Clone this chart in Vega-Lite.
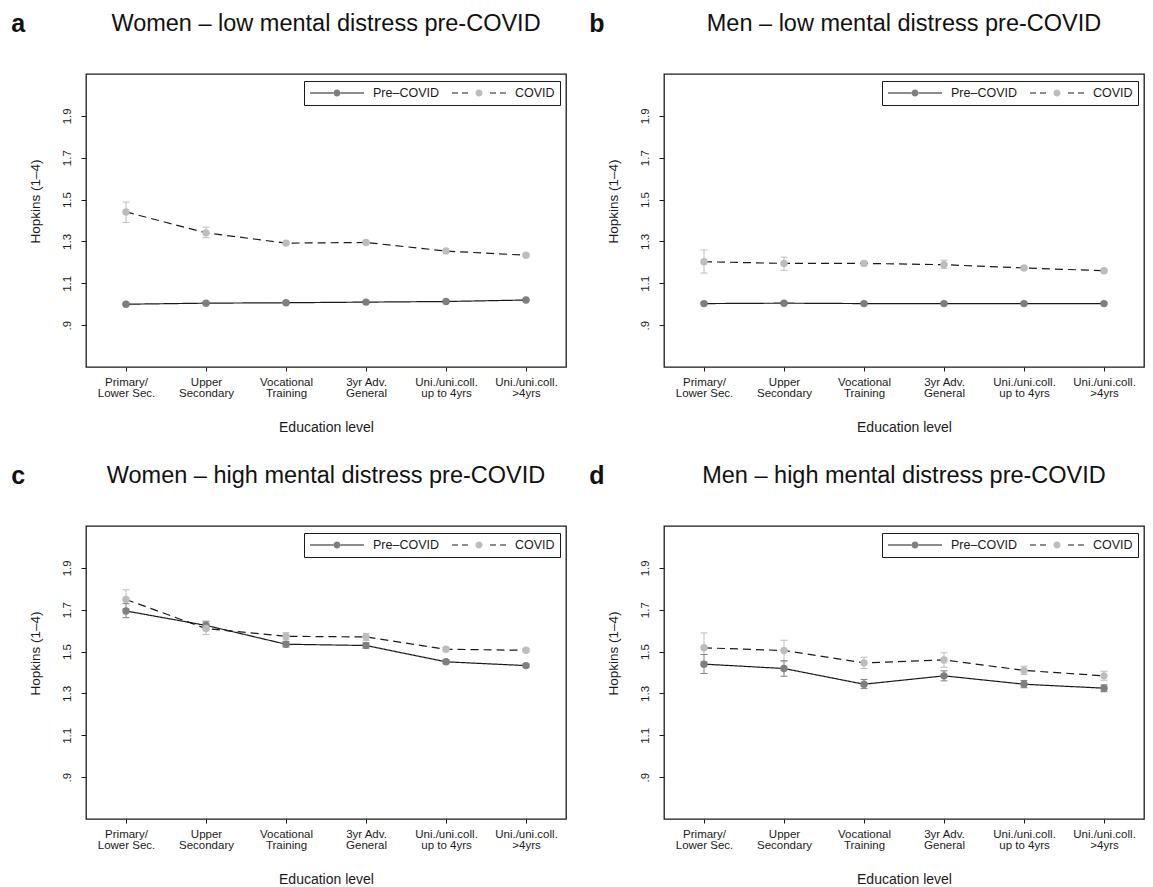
{
  "$schema": "https://vega.github.io/schema/vega-lite/v6.json",
  "padding": {"left": 11, "top": 10, "right": 5, "bottom": 3},
  "background": "white",
  "config": {
    "font": "Liberation Sans",
    "view": {"stroke": "#1a1a1a", "strokeWidth": 1.3},
    "axis": {"domain": false, "grid": false, "tickColor": "#1a1a1a", "labelColor": "#1a1a1a", "titleColor": "#1a1a1a", "labelFont": "Liberation Sans", "titleFont": "Liberation Sans", "titleFontWeight": "normal"},
    "title": {"font": "Liberation Sans", "fontWeight": "normal", "color": "#111111"}
  },
  "datasets": {
    "d": [
      {"panel": "a", "edu": "Primary/|Lower Sec.", "period": "Pre–COVID", "grp": "pre", "value": 1.000, "lo": 0.996, "hi": 1.004},
      {"panel": "a", "edu": "Upper|Secondary", "period": "Pre–COVID", "grp": "pre", "value": 1.005, "lo": 1.001, "hi": 1.009},
      {"panel": "a", "edu": "Vocational|Training", "period": "Pre–COVID", "grp": "pre", "value": 1.007, "lo": 1.003, "hi": 1.011},
      {"panel": "a", "edu": "3yr Adv.|General", "period": "Pre–COVID", "grp": "pre", "value": 1.010, "lo": 1.006, "hi": 1.014},
      {"panel": "a", "edu": "Uni./uni.coll.|up to 4yrs", "period": "Pre–COVID", "grp": "pre", "value": 1.013, "lo": 1.009, "hi": 1.017},
      {"panel": "a", "edu": "Uni./uni.coll.|>4yrs", "period": "Pre–COVID", "grp": "pre", "value": 1.020, "lo": 1.016, "hi": 1.024},
      {"panel": "a", "edu": "Primary/|Lower Sec.", "period": "COVID", "grp": "covid", "value": 1.441, "lo": 1.391, "hi": 1.488},
      {"panel": "a", "edu": "Upper|Secondary", "period": "COVID", "grp": "covid", "value": 1.341, "lo": 1.318, "hi": 1.368},
      {"panel": "a", "edu": "Vocational|Training", "period": "COVID", "grp": "covid", "value": 1.292, "lo": 1.286, "hi": 1.298},
      {"panel": "a", "edu": "3yr Adv.|General", "period": "COVID", "grp": "covid", "value": 1.295, "lo": 1.289, "hi": 1.301},
      {"panel": "a", "edu": "Uni./uni.coll.|up to 4yrs", "period": "COVID", "grp": "covid", "value": 1.254, "lo": 1.249, "hi": 1.259},
      {"panel": "a", "edu": "Uni./uni.coll.|>4yrs", "period": "COVID", "grp": "covid", "value": 1.234, "lo": 1.229, "hi": 1.239},
      {"panel": "b", "edu": "Primary/|Lower Sec.", "period": "Pre–COVID", "grp": "pre", "value": 1.003, "lo": 0.999, "hi": 1.007},
      {"panel": "b", "edu": "Upper|Secondary", "period": "Pre–COVID", "grp": "pre", "value": 1.005, "lo": 1.001, "hi": 1.009},
      {"panel": "b", "edu": "Vocational|Training", "period": "Pre–COVID", "grp": "pre", "value": 1.003, "lo": 0.999, "hi": 1.007},
      {"panel": "b", "edu": "3yr Adv.|General", "period": "Pre–COVID", "grp": "pre", "value": 1.003, "lo": 0.999, "hi": 1.007},
      {"panel": "b", "edu": "Uni./uni.coll.|up to 4yrs", "period": "Pre–COVID", "grp": "pre", "value": 1.003, "lo": 0.999, "hi": 1.007},
      {"panel": "b", "edu": "Uni./uni.coll.|>4yrs", "period": "Pre–COVID", "grp": "pre", "value": 1.003, "lo": 0.999, "hi": 1.007},
      {"panel": "b", "edu": "Primary/|Lower Sec.", "period": "COVID", "grp": "covid", "value": 1.203, "lo": 1.149, "hi": 1.259},
      {"panel": "b", "edu": "Upper|Secondary", "period": "COVID", "grp": "covid", "value": 1.195, "lo": 1.162, "hi": 1.225},
      {"panel": "b", "edu": "Vocational|Training", "period": "COVID", "grp": "covid", "value": 1.195, "lo": 1.185, "hi": 1.205},
      {"panel": "b", "edu": "3yr Adv.|General", "period": "COVID", "grp": "covid", "value": 1.189, "lo": 1.170, "hi": 1.210},
      {"panel": "b", "edu": "Uni./uni.coll.|up to 4yrs", "period": "COVID", "grp": "covid", "value": 1.173, "lo": 1.165, "hi": 1.181},
      {"panel": "b", "edu": "Uni./uni.coll.|>4yrs", "period": "COVID", "grp": "covid", "value": 1.160, "lo": 1.154, "hi": 1.166},
      {"panel": "c", "edu": "Primary/|Lower Sec.", "period": "Pre–COVID", "grp": "pre", "value": 1.694, "lo": 1.662, "hi": 1.729},
      {"panel": "c", "edu": "Upper|Secondary", "period": "Pre–COVID", "grp": "pre", "value": 1.625, "lo": 1.605, "hi": 1.645},
      {"panel": "c", "edu": "Vocational|Training", "period": "Pre–COVID", "grp": "pre", "value": 1.535, "lo": 1.522, "hi": 1.548},
      {"panel": "c", "edu": "3yr Adv.|General", "period": "Pre–COVID", "grp": "pre", "value": 1.529, "lo": 1.516, "hi": 1.542},
      {"panel": "c", "edu": "Uni./uni.coll.|up to 4yrs", "period": "Pre–COVID", "grp": "pre", "value": 1.451, "lo": 1.442, "hi": 1.460},
      {"panel": "c", "edu": "Uni./uni.coll.|>4yrs", "period": "Pre–COVID", "grp": "pre", "value": 1.433, "lo": 1.425, "hi": 1.441},
      {"panel": "c", "edu": "Primary/|Lower Sec.", "period": "COVID", "grp": "covid", "value": 1.749, "lo": 1.705, "hi": 1.795},
      {"panel": "c", "edu": "Upper|Secondary", "period": "COVID", "grp": "covid", "value": 1.610, "lo": 1.581, "hi": 1.638},
      {"panel": "c", "edu": "Vocational|Training", "period": "COVID", "grp": "covid", "value": 1.573, "lo": 1.556, "hi": 1.590},
      {"panel": "c", "edu": "3yr Adv.|General", "period": "COVID", "grp": "covid", "value": 1.570, "lo": 1.553, "hi": 1.587},
      {"panel": "c", "edu": "Uni./uni.coll.|up to 4yrs", "period": "COVID", "grp": "covid", "value": 1.511, "lo": 1.502, "hi": 1.520},
      {"panel": "c", "edu": "Uni./uni.coll.|>4yrs", "period": "COVID", "grp": "covid", "value": 1.506, "lo": 1.497, "hi": 1.515},
      {"panel": "d", "edu": "Primary/|Lower Sec.", "period": "Pre–COVID", "grp": "pre", "value": 1.440, "lo": 1.395, "hi": 1.486},
      {"panel": "d", "edu": "Upper|Secondary", "period": "Pre–COVID", "grp": "pre", "value": 1.419, "lo": 1.382, "hi": 1.456},
      {"panel": "d", "edu": "Vocational|Training", "period": "Pre–COVID", "grp": "pre", "value": 1.344, "lo": 1.324, "hi": 1.367},
      {"panel": "d", "edu": "3yr Adv.|General", "period": "Pre–COVID", "grp": "pre", "value": 1.384, "lo": 1.360, "hi": 1.408},
      {"panel": "d", "edu": "Uni./uni.coll.|up to 4yrs", "period": "Pre–COVID", "grp": "pre", "value": 1.344, "lo": 1.327, "hi": 1.362},
      {"panel": "d", "edu": "Uni./uni.coll.|>4yrs", "period": "Pre–COVID", "grp": "pre", "value": 1.325, "lo": 1.308, "hi": 1.341},
      {"panel": "d", "edu": "Primary/|Lower Sec.", "period": "COVID", "grp": "covid", "value": 1.518, "lo": 1.451, "hi": 1.589},
      {"panel": "d", "edu": "Upper|Secondary", "period": "COVID", "grp": "covid", "value": 1.505, "lo": 1.454, "hi": 1.554},
      {"panel": "d", "edu": "Vocational|Training", "period": "COVID", "grp": "covid", "value": 1.446, "lo": 1.419, "hi": 1.473},
      {"panel": "d", "edu": "3yr Adv.|General", "period": "COVID", "grp": "covid", "value": 1.460, "lo": 1.425, "hi": 1.494},
      {"panel": "d", "edu": "Uni./uni.coll.|up to 4yrs", "period": "COVID", "grp": "covid", "value": 1.410, "lo": 1.390, "hi": 1.430},
      {"panel": "d", "edu": "Uni./uni.coll.|>4yrs", "period": "COVID", "grp": "covid", "value": 1.384, "lo": 1.363, "hi": 1.406}
    ]
  },
  "resolve": {"scale": {"fill": "independent", "stroke": "independent", "strokeDash": "independent"}, "legend": {"fill": "independent"}},
  "spacing": 27,
  "vconcat": [
    {
      "spacing": 22,
      "resolve": {"scale": {"fill": "independent", "stroke": "independent", "strokeDash": "independent"}, "legend": {"fill": "independent"}},
      "hconcat": [
        {
          "title": {"text": "a", "anchor": "start", "frame": "bounds", "fontSize": 25, "fontWeight": "bold", "dx": -16, "dy": 26, "offset": 0},
          "resolve": {"scale": {"fill": "independent", "stroke": "independent", "strokeDash": "independent"}, "legend": {"fill": "independent"}},
          "vconcat": [
            {
              "width": 480, "height": 293,
              "title": {"text": "Women – low mental distress pre-COVID", "offset": 39, "fontSize": 23.5, "anchor": "middle", "frame": "group"},
              "data": {"name": "d"},
              "transform": [{"filter": "datum.panel === 'a'"}],
              "encoding": {
                "x": {"field": "edu", "type": "nominal", "scale": {"type": "point", "padding": 0.5, "domain": ["Primary/|Lower Sec.", "Upper|Secondary", "Vocational|Training", "3yr Adv.|General", "Uni./uni.coll.|up to 4yrs", "Uni./uni.coll.|>4yrs"]}, "axis": {"title": "Education level", "titleFontSize": 14, "titlePadding": 21, "labelFontSize": 11.5, "labelLineHeight": 11.5, "labelAngle": 0, "labelExpr": "split(datum.label, '|')", "labelOverlap": false, "tickSize": 4, "labelPadding": 5}},
                "y": {"field": "value", "type": "quantitative", "scale": {"domain": [0.7, 2.1], "nice": false, "zero": false}, "axis": {"title": "Hopkins (1–4)", "titleFontSize": 13.5, "titlePadding": 19, "titleY": 127, "values": [0.9, 1.1, 1.3, 1.5, 1.7, 1.9], "labelExpr": "datum.value < 1 ? '.9' : format(datum.value, '.1f')", "labelAngle": -90, "labelFontSize": 11.5, "tickSize": 5, "labelPadding": 9}}
              },
              "layer": [
                {"mark": {"type": "rule", "strokeWidth": 1}, "encoding": {"y": {"field": "lo", "type": "quantitative"}, "y2": {"field": "hi"}, "stroke": {"field": "period", "type": "nominal", "scale": {"domain": ["Pre–COVID", "COVID"], "range": ["#7f7f7f", "#bdbdbd"]}, "legend": null}}},
                {"mark": {"type": "rule", "strokeWidth": 1, "xOffset": -3.5, "x2Offset": 3.5}, "encoding": {"x2": {"field": "edu"}, "y": {"field": "lo", "type": "quantitative"}, "stroke": {"field": "period", "type": "nominal", "scale": {"domain": ["Pre–COVID", "COVID"], "range": ["#7f7f7f", "#bdbdbd"]}, "legend": null}}},
                {"mark": {"type": "rule", "strokeWidth": 1, "xOffset": -3.5, "x2Offset": 3.5}, "encoding": {"x2": {"field": "edu"}, "y": {"field": "hi", "type": "quantitative"}, "stroke": {"field": "period", "type": "nominal", "scale": {"domain": ["Pre–COVID", "COVID"], "range": ["#7f7f7f", "#bdbdbd"]}, "legend": null}}},
                {"mark": {"type": "line", "strokeWidth": 1.2, "color": "#1a1a1a"}, "encoding": {
                  "strokeDash": {"field": "period", "type": "nominal", "scale": {"domain": ["Pre–COVID", "COVID"], "range": [[1, 0], [8, 5]]}, "legend": null}}},
                {"mark": {"type": "point", "filled": true, "size": 55, "opacity": 1}, "encoding": {
                  "fill": {"field": "grp", "type": "nominal", "scale": {"domain": ["pre", "covid"], "range": ["#7f7f7f", "#bdbdbd"]}, "legend": {"orient": "none", "legendX": 218, "legendY": 7, "direction": "horizontal", "columns": 2, "title": null, "symbolType": "M-0.13,0H-1H-0.13M0.13,0H1H0.13M-0.13,0A0.13,0.13 0 1 1 0.13,0A0.13,0.13 0 1 1 -0.13,0Z", "symbolSize": 2916, "symbolStrokeWidth": 1.2, "symbolStrokeColor": "#1a1a1a", "symbolOpacity": 1, "clipHeight": 14, "labelFontSize": 12.5, "labelColor": "#1a1a1a", "labelExpr": "datum.value === 'pre' ? 'Pre–COVID' : 'COVID'", "labelOffset": 8, "columnPadding": 12, "padding": 5, "strokeColor": "#1a1a1a", "encode": {"symbols": {"update": {"stroke": {"value": "#1a1a1a"}, "strokeWidth": {"value": 1.2}, "strokeDash": {"signal": "datum.value === 'covid' ? [0, 23.5, 6, 4, 6, 100] : [0, 23.5, 100]"}, "fill": {"signal": "datum.value === 'covid' ? '#bdbdbd' : '#7f7f7f'"}}}}}}}}
              ]
            }
          ]
        },
        {
          "title": {"text": "b", "anchor": "start", "frame": "bounds", "fontSize": 25, "fontWeight": "bold", "dx": -16, "dy": 26, "offset": 0},
          "resolve": {"scale": {"fill": "independent", "stroke": "independent", "strokeDash": "independent"}, "legend": {"fill": "independent"}},
          "vconcat": [
            {
              "width": 480, "height": 293,
              "title": {"text": "Men – low mental distress pre-COVID", "offset": 39, "fontSize": 23.5, "anchor": "middle", "frame": "group"},
              "data": {"name": "d"},
              "transform": [{"filter": "datum.panel === 'b'"}],
              "encoding": {
                "x": {"field": "edu", "type": "nominal", "scale": {"type": "point", "padding": 0.5, "domain": ["Primary/|Lower Sec.", "Upper|Secondary", "Vocational|Training", "3yr Adv.|General", "Uni./uni.coll.|up to 4yrs", "Uni./uni.coll.|>4yrs"]}, "axis": {"title": "Education level", "titleFontSize": 14, "titlePadding": 21, "labelFontSize": 11.5, "labelLineHeight": 11.5, "labelAngle": 0, "labelExpr": "split(datum.label, '|')", "labelOverlap": false, "tickSize": 4, "labelPadding": 5}},
                "y": {"field": "value", "type": "quantitative", "scale": {"domain": [0.7, 2.1], "nice": false, "zero": false}, "axis": {"title": "Hopkins (1–4)", "titleFontSize": 13.5, "titlePadding": 19, "titleY": 127, "values": [0.9, 1.1, 1.3, 1.5, 1.7, 1.9], "labelExpr": "datum.value < 1 ? '.9' : format(datum.value, '.1f')", "labelAngle": -90, "labelFontSize": 11.5, "tickSize": 5, "labelPadding": 9}}
              },
              "layer": [
                {"mark": {"type": "rule", "strokeWidth": 1}, "encoding": {"y": {"field": "lo", "type": "quantitative"}, "y2": {"field": "hi"}, "stroke": {"field": "period", "type": "nominal", "scale": {"domain": ["Pre–COVID", "COVID"], "range": ["#7f7f7f", "#bdbdbd"]}, "legend": null}}},
                {"mark": {"type": "rule", "strokeWidth": 1, "xOffset": -3.5, "x2Offset": 3.5}, "encoding": {"x2": {"field": "edu"}, "y": {"field": "lo", "type": "quantitative"}, "stroke": {"field": "period", "type": "nominal", "scale": {"domain": ["Pre–COVID", "COVID"], "range": ["#7f7f7f", "#bdbdbd"]}, "legend": null}}},
                {"mark": {"type": "rule", "strokeWidth": 1, "xOffset": -3.5, "x2Offset": 3.5}, "encoding": {"x2": {"field": "edu"}, "y": {"field": "hi", "type": "quantitative"}, "stroke": {"field": "period", "type": "nominal", "scale": {"domain": ["Pre–COVID", "COVID"], "range": ["#7f7f7f", "#bdbdbd"]}, "legend": null}}},
                {"mark": {"type": "line", "strokeWidth": 1.2, "color": "#1a1a1a"}, "encoding": {
                  "strokeDash": {"field": "period", "type": "nominal", "scale": {"domain": ["Pre–COVID", "COVID"], "range": [[1, 0], [8, 5]]}, "legend": null}}},
                {"mark": {"type": "point", "filled": true, "size": 55, "opacity": 1}, "encoding": {
                  "fill": {"field": "grp", "type": "nominal", "scale": {"domain": ["pre", "covid"], "range": ["#7f7f7f", "#bdbdbd"]}, "legend": {"orient": "none", "legendX": 218, "legendY": 7, "direction": "horizontal", "columns": 2, "title": null, "symbolType": "M-0.13,0H-1H-0.13M0.13,0H1H0.13M-0.13,0A0.13,0.13 0 1 1 0.13,0A0.13,0.13 0 1 1 -0.13,0Z", "symbolSize": 2916, "symbolStrokeWidth": 1.2, "symbolStrokeColor": "#1a1a1a", "symbolOpacity": 1, "clipHeight": 14, "labelFontSize": 12.5, "labelColor": "#1a1a1a", "labelExpr": "datum.value === 'pre' ? 'Pre–COVID' : 'COVID'", "labelOffset": 8, "columnPadding": 12, "padding": 5, "strokeColor": "#1a1a1a", "encode": {"symbols": {"update": {"stroke": {"value": "#1a1a1a"}, "strokeWidth": {"value": 1.2}, "strokeDash": {"signal": "datum.value === 'covid' ? [0, 23.5, 6, 4, 6, 100] : [0, 23.5, 100]"}, "fill": {"signal": "datum.value === 'covid' ? '#bdbdbd' : '#7f7f7f'"}}}}}}}}
              ]
            }
          ]
        }
      ]
    },
    {
      "spacing": 22,
      "resolve": {"scale": {"fill": "independent", "stroke": "independent", "strokeDash": "independent"}, "legend": {"fill": "independent"}},
      "hconcat": [
        {
          "title": {"text": "c", "anchor": "start", "frame": "bounds", "fontSize": 25, "fontWeight": "bold", "dx": -16, "dy": 26, "offset": 0},
          "resolve": {"scale": {"fill": "independent", "stroke": "independent", "strokeDash": "independent"}, "legend": {"fill": "independent"}},
          "vconcat": [
            {
              "width": 480, "height": 293,
              "title": {"text": "Women – high mental distress pre-COVID", "offset": 39, "fontSize": 23.5, "anchor": "middle", "frame": "group"},
              "data": {"name": "d"},
              "transform": [{"filter": "datum.panel === 'c'"}],
              "encoding": {
                "x": {"field": "edu", "type": "nominal", "scale": {"type": "point", "padding": 0.5, "domain": ["Primary/|Lower Sec.", "Upper|Secondary", "Vocational|Training", "3yr Adv.|General", "Uni./uni.coll.|up to 4yrs", "Uni./uni.coll.|>4yrs"]}, "axis": {"title": "Education level", "titleFontSize": 14, "titlePadding": 21, "labelFontSize": 11.5, "labelLineHeight": 11.5, "labelAngle": 0, "labelExpr": "split(datum.label, '|')", "labelOverlap": false, "tickSize": 4, "labelPadding": 5}},
                "y": {"field": "value", "type": "quantitative", "scale": {"domain": [0.7, 2.1], "nice": false, "zero": false}, "axis": {"title": "Hopkins (1–4)", "titleFontSize": 13.5, "titlePadding": 19, "titleY": 127, "values": [0.9, 1.1, 1.3, 1.5, 1.7, 1.9], "labelExpr": "datum.value < 1 ? '.9' : format(datum.value, '.1f')", "labelAngle": -90, "labelFontSize": 11.5, "tickSize": 5, "labelPadding": 9}}
              },
              "layer": [
                {"mark": {"type": "rule", "strokeWidth": 1}, "encoding": {"y": {"field": "lo", "type": "quantitative"}, "y2": {"field": "hi"}, "stroke": {"field": "period", "type": "nominal", "scale": {"domain": ["Pre–COVID", "COVID"], "range": ["#7f7f7f", "#bdbdbd"]}, "legend": null}}},
                {"mark": {"type": "rule", "strokeWidth": 1, "xOffset": -3.5, "x2Offset": 3.5}, "encoding": {"x2": {"field": "edu"}, "y": {"field": "lo", "type": "quantitative"}, "stroke": {"field": "period", "type": "nominal", "scale": {"domain": ["Pre–COVID", "COVID"], "range": ["#7f7f7f", "#bdbdbd"]}, "legend": null}}},
                {"mark": {"type": "rule", "strokeWidth": 1, "xOffset": -3.5, "x2Offset": 3.5}, "encoding": {"x2": {"field": "edu"}, "y": {"field": "hi", "type": "quantitative"}, "stroke": {"field": "period", "type": "nominal", "scale": {"domain": ["Pre–COVID", "COVID"], "range": ["#7f7f7f", "#bdbdbd"]}, "legend": null}}},
                {"mark": {"type": "line", "strokeWidth": 1.2, "color": "#1a1a1a"}, "encoding": {
                  "strokeDash": {"field": "period", "type": "nominal", "scale": {"domain": ["Pre–COVID", "COVID"], "range": [[1, 0], [8, 5]]}, "legend": null}}},
                {"mark": {"type": "point", "filled": true, "size": 55, "opacity": 1}, "encoding": {
                  "fill": {"field": "grp", "type": "nominal", "scale": {"domain": ["pre", "covid"], "range": ["#7f7f7f", "#bdbdbd"]}, "legend": {"orient": "none", "legendX": 218, "legendY": 7, "direction": "horizontal", "columns": 2, "title": null, "symbolType": "M-0.13,0H-1H-0.13M0.13,0H1H0.13M-0.13,0A0.13,0.13 0 1 1 0.13,0A0.13,0.13 0 1 1 -0.13,0Z", "symbolSize": 2916, "symbolStrokeWidth": 1.2, "symbolStrokeColor": "#1a1a1a", "symbolOpacity": 1, "clipHeight": 14, "labelFontSize": 12.5, "labelColor": "#1a1a1a", "labelExpr": "datum.value === 'pre' ? 'Pre–COVID' : 'COVID'", "labelOffset": 8, "columnPadding": 12, "padding": 5, "strokeColor": "#1a1a1a", "encode": {"symbols": {"update": {"stroke": {"value": "#1a1a1a"}, "strokeWidth": {"value": 1.2}, "strokeDash": {"signal": "datum.value === 'covid' ? [0, 23.5, 6, 4, 6, 100] : [0, 23.5, 100]"}, "fill": {"signal": "datum.value === 'covid' ? '#bdbdbd' : '#7f7f7f'"}}}}}}}}
              ]
            }
          ]
        },
        {
          "title": {"text": "d", "anchor": "start", "frame": "bounds", "fontSize": 25, "fontWeight": "bold", "dx": -16, "dy": 26, "offset": 0},
          "resolve": {"scale": {"fill": "independent", "stroke": "independent", "strokeDash": "independent"}, "legend": {"fill": "independent"}},
          "vconcat": [
            {
              "width": 480, "height": 293,
              "title": {"text": "Men – high mental distress pre-COVID", "offset": 39, "fontSize": 23.5, "anchor": "middle", "frame": "group"},
              "data": {"name": "d"},
              "transform": [{"filter": "datum.panel === 'd'"}],
              "encoding": {
                "x": {"field": "edu", "type": "nominal", "scale": {"type": "point", "padding": 0.5, "domain": ["Primary/|Lower Sec.", "Upper|Secondary", "Vocational|Training", "3yr Adv.|General", "Uni./uni.coll.|up to 4yrs", "Uni./uni.coll.|>4yrs"]}, "axis": {"title": "Education level", "titleFontSize": 14, "titlePadding": 21, "labelFontSize": 11.5, "labelLineHeight": 11.5, "labelAngle": 0, "labelExpr": "split(datum.label, '|')", "labelOverlap": false, "tickSize": 4, "labelPadding": 5}},
                "y": {"field": "value", "type": "quantitative", "scale": {"domain": [0.7, 2.1], "nice": false, "zero": false}, "axis": {"title": "Hopkins (1–4)", "titleFontSize": 13.5, "titlePadding": 19, "titleY": 127, "values": [0.9, 1.1, 1.3, 1.5, 1.7, 1.9], "labelExpr": "datum.value < 1 ? '.9' : format(datum.value, '.1f')", "labelAngle": -90, "labelFontSize": 11.5, "tickSize": 5, "labelPadding": 9}}
              },
              "layer": [
                {"mark": {"type": "rule", "strokeWidth": 1}, "encoding": {"y": {"field": "lo", "type": "quantitative"}, "y2": {"field": "hi"}, "stroke": {"field": "period", "type": "nominal", "scale": {"domain": ["Pre–COVID", "COVID"], "range": ["#7f7f7f", "#bdbdbd"]}, "legend": null}}},
                {"mark": {"type": "rule", "strokeWidth": 1, "xOffset": -3.5, "x2Offset": 3.5}, "encoding": {"x2": {"field": "edu"}, "y": {"field": "lo", "type": "quantitative"}, "stroke": {"field": "period", "type": "nominal", "scale": {"domain": ["Pre–COVID", "COVID"], "range": ["#7f7f7f", "#bdbdbd"]}, "legend": null}}},
                {"mark": {"type": "rule", "strokeWidth": 1, "xOffset": -3.5, "x2Offset": 3.5}, "encoding": {"x2": {"field": "edu"}, "y": {"field": "hi", "type": "quantitative"}, "stroke": {"field": "period", "type": "nominal", "scale": {"domain": ["Pre–COVID", "COVID"], "range": ["#7f7f7f", "#bdbdbd"]}, "legend": null}}},
                {"mark": {"type": "line", "strokeWidth": 1.2, "color": "#1a1a1a"}, "encoding": {
                  "strokeDash": {"field": "period", "type": "nominal", "scale": {"domain": ["Pre–COVID", "COVID"], "range": [[1, 0], [8, 5]]}, "legend": null}}},
                {"mark": {"type": "point", "filled": true, "size": 55, "opacity": 1}, "encoding": {
                  "fill": {"field": "grp", "type": "nominal", "scale": {"domain": ["pre", "covid"], "range": ["#7f7f7f", "#bdbdbd"]}, "legend": {"orient": "none", "legendX": 218, "legendY": 7, "direction": "horizontal", "columns": 2, "title": null, "symbolType": "M-0.13,0H-1H-0.13M0.13,0H1H0.13M-0.13,0A0.13,0.13 0 1 1 0.13,0A0.13,0.13 0 1 1 -0.13,0Z", "symbolSize": 2916, "symbolStrokeWidth": 1.2, "symbolStrokeColor": "#1a1a1a", "symbolOpacity": 1, "clipHeight": 14, "labelFontSize": 12.5, "labelColor": "#1a1a1a", "labelExpr": "datum.value === 'pre' ? 'Pre–COVID' : 'COVID'", "labelOffset": 8, "columnPadding": 12, "padding": 5, "strokeColor": "#1a1a1a", "encode": {"symbols": {"update": {"stroke": {"value": "#1a1a1a"}, "strokeWidth": {"value": 1.2}, "strokeDash": {"signal": "datum.value === 'covid' ? [0, 23.5, 6, 4, 6, 100] : [0, 23.5, 100]"}, "fill": {"signal": "datum.value === 'covid' ? '#bdbdbd' : '#7f7f7f'"}}}}}}}}
              ]
            }
          ]
        }
      ]
    }
  ]
}
